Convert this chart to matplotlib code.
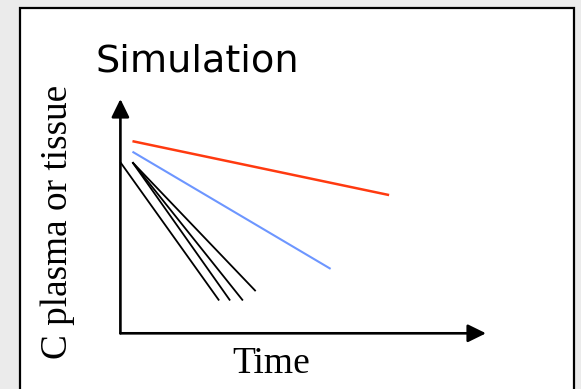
import matplotlib
matplotlib.use('Agg')
import matplotlib.pyplot as plt
from matplotlib.patches import Rectangle

# ---- data (schematic concentration-time curves) ----
red_time = [0.33, 7.35]
red_conc = [8.2, 5.9]
blue_time = [0.33, 5.75]
blue_conc = [7.75, 2.75]
black_time = [[0.0, 2.7], [0.33, 3.0], [0.33, 3.35], [0.33, 3.7]]
black_conc = [[7.3, 1.4], [7.3, 1.4], [7.3, 1.4], [7.3, 1.8]]

title_text = "Simulation"
xlabel_text = "Time"
ylabel_text = "C plasma or tissue"

W, H = 581, 389
fig = plt.figure(figsize=(W / 100, H / 100), dpi=100)
fig.patch.set_facecolor('#ebebeb')


def fx(px):
    return px / W


def fy(py):
    return 1 - py / H


# white framed panel
fig.patches.append(Rectangle((fx(20.3), fy(400)), fx(574.3) - fx(20.3), fy(7.7) - fy(400),
                             transform=fig.transFigure, facecolor='white',
                             edgecolor='black', lw=1.6, zorder=-5))

ax = fig.add_axes([fx(120.4), fy(333.3), fx(486) - fx(120.4), fy(99) - fy(333.3)])
ax.set_zorder(2)
ax.set_xlim(0, 10)
ax.set_ylim(0, 10)
ax.axis('off')

# axis arrows
arrow = dict(arrowstyle='-|>,head_length=0.55,head_width=0.27', mutation_scale=20,
             lw=1.9, color='black', shrinkA=0, shrinkB=0)
ax.annotate('', xy=(1, 0), xytext=(0, 0), xycoords='axes fraction', arrowprops=arrow,
            annotation_clip=False)
ax.annotate('', xy=(0, 1), xytext=(0, 0), xycoords='axes fraction', arrowprops=arrow,
            annotation_clip=False)

ax.plot(red_time, red_conc, color='#ff3a10', lw=1.8, solid_capstyle='butt', clip_on=False)
ax.plot(blue_time, blue_conc, color='#6d96ff', lw=1.5, solid_capstyle='butt', clip_on=False)
for t, c in zip(black_time, black_conc):
    ax.plot(t, c, color='black', lw=1.3, solid_capstyle='butt', clip_on=False)

fig.text(fx(95.5), fy(71.7), title_text, fontsize=27.5, family='DejaVu Sans',
         ha='left', va='baseline')
fig.text(fx(271), fy(373.3), xlabel_text, fontsize=27, family='Liberation Serif',
         ha='center', va='baseline')
fig.text(fx(67), fy(222), ylabel_text, fontsize=26.8, family='Liberation Serif',
         rotation=90, rotation_mode='anchor', ha='center', va='baseline')

fig.savefig('out.png', dpi=100, facecolor=fig.get_facecolor())
